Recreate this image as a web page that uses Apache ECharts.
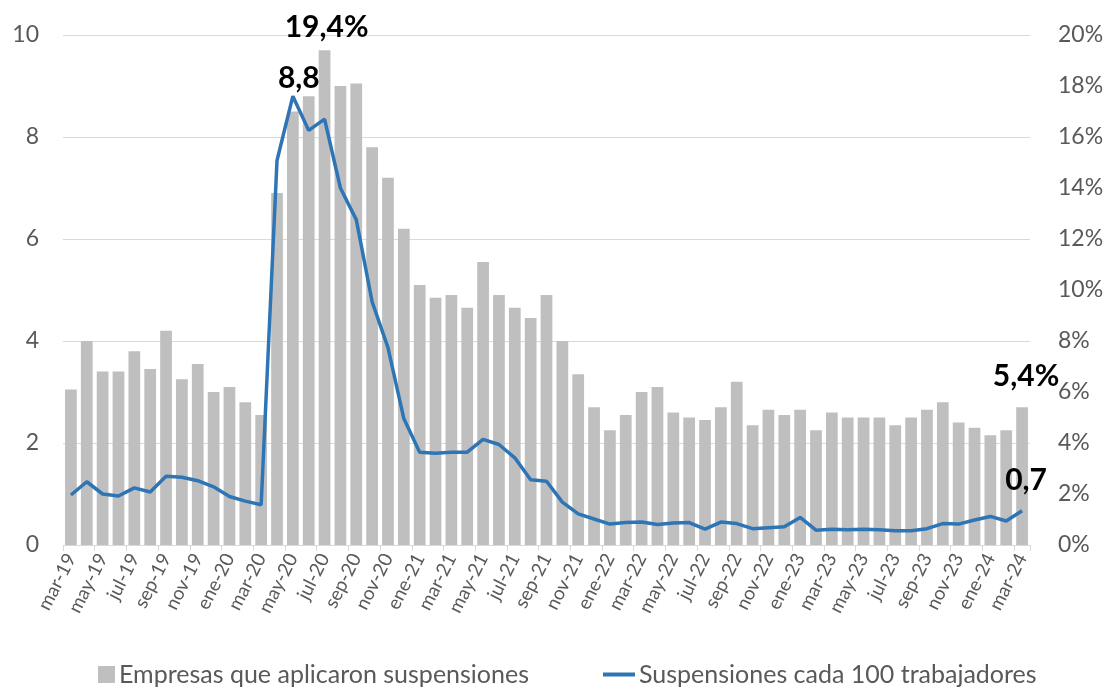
<!DOCTYPE html>
<html>
<head>
<meta charset="utf-8">
<script src="https://cdn.jsdelivr.net/npm/echarts@6/dist/echarts.min.js"></script>
<style>
html,body{margin:0;padding:0;background:#fff;}
#c{width:1109px;height:689px;}
</style>
</head>
<body>
<div id="c"></div>
<script>
var categories = [
'mar-19','abr-19','may-19','jun-19','jul-19','ago-19','sep-19','oct-19','nov-19','dic-19',
'ene-20','feb-20','mar-20','abr-20','may-20','jun-20','jul-20','ago-20','sep-20','oct-20','nov-20','dic-20',
'ene-21','feb-21','mar-21','abr-21','may-21','jun-21','jul-21','ago-21','sep-21','oct-21','nov-21','dic-21',
'ene-22','feb-22','mar-22','abr-22','may-22','jun-22','jul-22','ago-22','sep-22','oct-22','nov-22','dic-22',
'ene-23','feb-23','mar-23','abr-23','may-23','jun-23','jul-23','ago-23','sep-23','oct-23','nov-23','dic-23',
'ene-24','feb-24','mar-24'
];
// Empresas que aplicaron suspensiones (% , right axis)
var empresas = [
6.1, 8.0, 6.8, 6.8, 7.6, 6.9, 8.4, 6.5, 7.1, 6.0,
6.2, 5.6, 5.1, 13.8, 17.0, 17.6, 19.4, 18.0, 18.1, 15.6, 14.4, 12.4,
10.2, 9.7, 9.8, 9.3, 11.1, 9.8, 9.3, 8.9, 9.8, 8.0, 6.7, 5.4,
4.5, 5.1, 6.0, 6.2, 5.2, 5.0, 4.9, 5.4, 6.4, 4.7, 5.3, 5.1,
5.3, 4.5, 5.2, 5.0, 5.0, 5.0, 4.7, 5.0, 5.3, 5.6, 4.8, 4.6,
4.3, 4.5, 5.4
];
// Suspensiones cada 100 trabajadores (left axis)
var suspensiones = [
0.98, 1.24, 1.00, 0.96, 1.12, 1.04, 1.35, 1.33, 1.26, 1.14,
0.95, 0.86, 0.79, 7.54, 8.8, 8.13, 8.35, 7.0, 6.38, 4.77, 3.87, 2.48,
1.82, 1.80, 1.82, 1.82, 2.07, 1.97, 1.71, 1.28, 1.25, 0.84, 0.61, 0.51,
0.41, 0.44, 0.45, 0.40, 0.43, 0.44, 0.31, 0.45, 0.42, 0.32, 0.34, 0.36,
0.54, 0.29, 0.31, 0.30, 0.31, 0.30, 0.28, 0.28, 0.32, 0.42, 0.41, 0.49,
0.56, 0.47, 0.67
];
var leftTicks = [0, 10, 2];
var rightTicks = [0, 20, 2];
var barName = 'Empresas que aplicaron suspensiones';
var lineName = 'Suspensiones cada 100 trabajadores';

function fmt(v){ return v.toFixed(1).replace('.', ','); }

var barMaxIdx = empresas.indexOf(Math.max.apply(null, empresas));
var lineMaxIdx = suspensiones.indexOf(Math.max.apply(null, suspensiones));
var lastIdx = categories.length - 1;

var labelBase = {show:true, position:'top', color:'#000', fontWeight:'bold', fontSize:30, fontFamily:'Lato'};

var barData = empresas.map(function(v,i){
  if(i===barMaxIdx) return {value:v, label:Object.assign({}, labelBase, {distance:8, offset:[2,0], formatter:function(p){return fmt(p.value)+'%';}})};
  if(i===lastIdx) return {value:v, label:Object.assign({}, labelBase, {distance:16, offset:[4,0], formatter:function(p){return fmt(p.value)+'%';}})};
  return v;
});
var lineData = suspensiones.map(function(v,i){
  if(i===lineMaxIdx) return {value:v, label:Object.assign({}, labelBase, {distance:3, offset:[6,0], formatter:function(p){return fmt(p.value);}})};
  if(i===lastIdx) return {value:v, label:Object.assign({}, labelBase, {distance:16, offset:[4,0], formatter:function(p){return fmt(p.value);}})};
  return v;
});

var chart = echarts.init(document.getElementById('c'));
chart.setOption({
  animation:false,
  backgroundColor:'#fff',
  textStyle:{fontFamily:'Lato'},
  grid:{left:63, right:79, top:35, bottom:144, containLabel:false},
  legend:[{
    data:[{name:barName, icon:'rect'}],
    left:93, top:657, itemWidth:17, itemHeight:17, itemGap:4,
    textStyle:{color:'#595959', fontSize:25, fontFamily:'Lato', padding:[0,0,0,-1]}
  },{
    data:[{name:lineName, icon:'rect'}],
    left:598, top:657, itemWidth:32, itemHeight:4, itemGap:4,
    textStyle:{color:'#595959', fontSize:25, fontFamily:'Lato', padding:[0,0,0,-1]}
  }],
  xAxis:{
    type:'category', data:categories, boundaryGap:true,
    axisLine:{lineStyle:{color:'#D9D9D9', width:1}},
    axisTick:{show:true, interval:1, length:6, lineStyle:{color:'#D9D9D9'}},
    axisLabel:{interval:1, rotate:63, color:'#595959', fontSize:19, margin:10, fontFamily:'Lato'}
  },
  yAxis:[{
    type:'value', min:leftTicks[0], max:leftTicks[1], interval:leftTicks[2], position:'left',
    axisLine:{show:false}, axisTick:{show:false},
    splitLine:{lineStyle:{color:'#D9D9D9', width:1}},
    axisLabel:{color:'#595959', fontSize:23, margin:24, fontFamily:'Lato'}
  },{
    type:'value', min:rightTicks[0], max:rightTicks[1], interval:rightTicks[2], position:'right',
    axisLine:{show:false}, axisTick:{show:false}, splitLine:{show:false},
    axisLabel:{color:'#595959', fontSize:23, margin:28, fontFamily:'Lato', formatter:'{value}%'}
  }],
  series:[{
    name:barName, type:'bar', yAxisIndex:1, data:barData,
    barCategoryGap:'26%', itemStyle:{color:'#BFBFBF'}, z:1
  },{
    name:lineName, type:'line', yAxisIndex:0, data:lineData,
    symbol:'circle', symbolSize:0, showSymbol:true,
    lineStyle:{color:'#2E75B6', width:3.5}, itemStyle:{color:'#2E75B6'}, z:3
  }]
});
</script>
</body>
</html>
